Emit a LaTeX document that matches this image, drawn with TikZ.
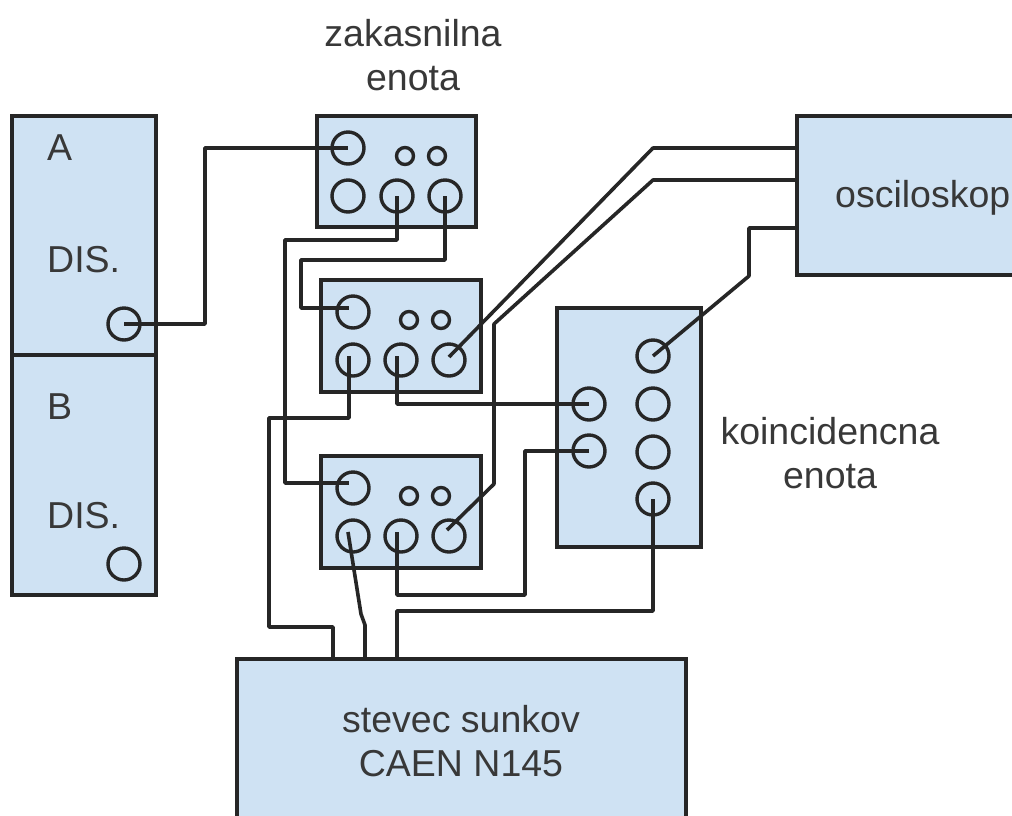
\documentclass[tikz,border=0pt]{standalone}
\usepackage{fontspec}
\setmainfont{Liberation Sans}
\definecolor{boxblue}{RGB}{207,226,243}
\tikzset{
  every picture/.style={x=1pt,y=-1pt},
  unit/.style={draw=black!85,line width=3.6pt,fill=boxblue,inner sep=0pt},
  bigj/.style={circle,draw=black!85,line width=3.4pt,minimum size=32pt,inner sep=0pt},
  smallj/.style={circle,draw=black!85,line width=3.4pt,minimum size=17pt,inner sep=0pt},
  wire/.style={draw=black!85,line width=3.6pt,line join=round},
  lab/.style={font=\fontsize{37.5}{44}\selectfont,text=black!78,align=center,inner sep=0pt}
}
\begin{document}
\begin{tikzpicture}
\useasboundingbox (0,0) rectangle (1012,815);
\clip (0,0) rectangle (1012,815);
% boxes
\node[unit,minimum width=144pt,minimum height=239pt] (boxa) at (84,235.5) {};
\node[unit,minimum width=144pt,minimum height=240pt] (boxb) at (84,475) {};
\node[unit,minimum width=159pt,minimum height=111pt] (d1) at (396.5,171.5) {};
\node[unit,minimum width=160pt,minimum height=112pt] (d2) at (401,336) {};
\node[unit,minimum width=160pt,minimum height=112pt] (d3) at (401,512) {};
\node[unit,minimum width=144pt,minimum height=239pt] (co) at (629,427.5) {};
\node[unit,minimum width=260pt,minimum height=159pt] (osc) at (927,195.5) {};
\node[unit,minimum width=449pt,minimum height=200pt] (cnt) at (461.5,759) {};
% jacks
\node[bigj] (ja) at (124,324) {};
\node[bigj] (jb) at (124,564) {};
\node[bigj] (d1a) at (348,148) {};
\node[bigj] (d1b) at (348,196) {};
\node[bigj] (d1c) at (397,196) {};
\node[bigj] (d1d) at (445,196) {};
\node[smallj] (d1e) at (405,156) {};
\node[smallj] (d1f) at (437,156) {};
\node[bigj] (d2a) at (353,312) {};
\node[bigj] (d2b) at (353,360) {};
\node[bigj] (d2c) at (401,360) {};
\node[bigj] (d2d) at (449,360) {};
\node[smallj] (d2e) at (409,320) {};
\node[smallj] (d2f) at (441,320) {};
\node[bigj] (d3a) at (353,488) {};
\node[bigj] (d3b) at (353,536) {};
\node[bigj] (d3c) at (401,536) {};
\node[bigj] (d3d) at (449,536) {};
\node[smallj] (d3e) at (409,496) {};
\node[smallj] (d3f) at (441,496) {};
\node[bigj] (c1) at (653,356) {};
\node[bigj] (c2) at (653,404) {};
\node[bigj] (c3) at (653,452) {};
\node[bigj] (c4) at (653,499) {};
\node[bigj] (c5) at (589,404) {};
\node[bigj] (c6) at (589,451) {};
% wire ends
\coordinate (o1) at (797,148);
\coordinate (o2) at (797,180);
\coordinate (o3) at (797,228);
\coordinate (k1) at (333,659);
\coordinate (k2) at (365,659);
\coordinate (k3) at (397,659);
\coordinate (ed2a) at (349,308);
\coordinate (ed2b) at (349,356);
\coordinate (ed2c) at (397,356);
\coordinate (ed2d) at (449,357);
\coordinate (ed3a) at (349,483);
\coordinate (ed3b) at (348,532);
\coordinate (ed3c) at (397,532);
\coordinate (ed3d) at (447,530);
% wires
\draw[wire] (ja.center) -- (205,324) -- (205,148) -- (d1a.center);
\draw[wire] (d1c.center) -- (397,240) -- (285,240) -- (285,483) -- (ed3a);
\draw[wire] (d1d.center) -- (445,260) -- (301,260) -- (301,308) -- (ed2a);
\draw[wire] (ed2b) -- (349,418) -- (269,418) -- (269,627) -- (333,627) -- (k1);
\draw[wire] (ed2c) -- (397,404) -- (c5.center);
\draw[wire] (ed2d) -- (653,148) -- (o1);
\draw[wire] (ed3d) -- (494,484) -- (494,324) -- (653,180) -- (o2);
\draw[wire] (c1.center) -- (749,276) -- (749,228) -- (o3);
\draw[wire] (c6.center) -- (525,451) -- (525,595) -- (397,595) -- (ed3c);
\draw[wire] (c4.center) -- (653,611) -- (397,611) -- (k3);
\draw[wire] (ed3b) -- (361,614) -- (365,625) -- (k2);
% labels
\node[lab] (t1) at (413,55) {zakasnilna\\enota};
\node[lab,anchor=west] (ta) at (47,148) {A};
\node[lab,anchor=west] (tb) at (47,260) {DIS.};
\node[lab,anchor=west] (tc) at (47,407) {B};
\node[lab,anchor=west] (td) at (47,516) {DIS.};
\node[lab,anchor=west] (to) at (835,198) {osciloskop};
\node[lab] (tk) at (830,453) {koincidencna\\enota};
\node[lab] (ts) at (461,741) {stevec sunkov\\CAEN N145};
\end{tikzpicture}
\end{document}
